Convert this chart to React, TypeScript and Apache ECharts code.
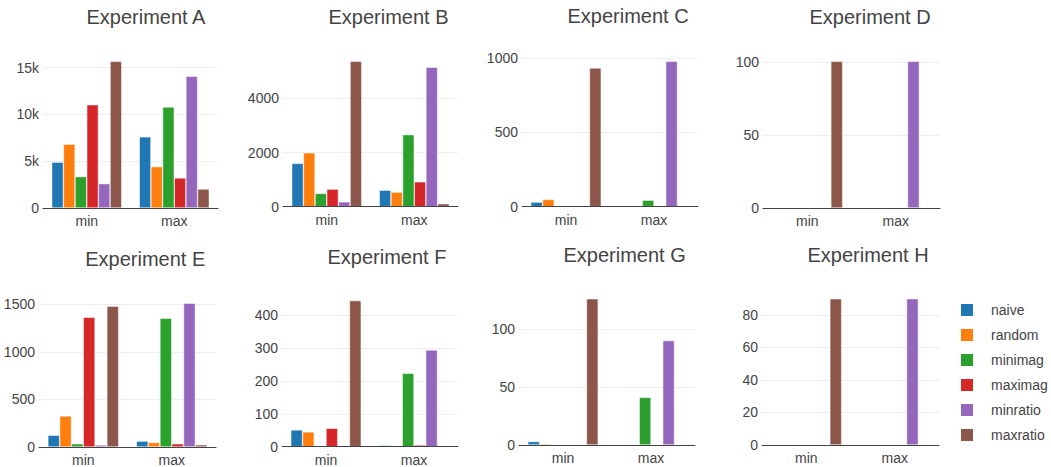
import React, { useEffect, useRef } from 'react';
import * as echarts from 'echarts';

const categories = ['min', 'max'];
const seriesNames = ['naive', 'random', 'minimag', 'maximag', 'minratio', 'maxratio'];
const seriesColors = ['#1f77b4', '#ff7f0e', '#2ca02c', '#d62728', '#9467bd', '#8c564b'];

// values per series (naive, random, minimag, maximag, minratio, maxratio) as [min, max]
const expA = [[4890, 7600], [6820, 4420], [3350, 10780], [11030, 3210], [2600, 14060], [15660, 2030]];
const expB = [[1600, 610], [1990, 540], [490, 2660], [650, 920], [180, 5150], [5370, 110]];
const expC = [[31, 0], [49, 0], [0, 44], [3, 0], [0, 978], [933, 0]];
const expD = [[0, 0], [0, 0], [0, 0], [0, 0], [0, 100.5], [100.5, 0]];
const expE = [[124, 62], [327, 48], [34, 1355], [1365, 34], [21, 1513], [1482, 24]];
const expF = [[51, 4], [45, 1], [0, 223], [56, 5], [0, 294], [444, 0]];
const expG = [[3, 0], [1, 0], [0, 41], [0, 0], [0, 90], [126, 0]];
const expH = [[0, 0], [0, 0], [0, 0], [0, 0], [0, 90], [90, 0]];

const ticksA = [0, 5000, 10000, 15000];
const labelsA = ['0', '5k', '10k', '15k'];
const ticksB = [0, 2000, 4000];
const ticksC = [0, 500, 1000];
const ticksD = [0, 50, 100];
const ticksE = [0, 500, 1000, 1500];
const ticksF = [0, 100, 200, 300, 400];
const ticksG = [0, 50, 100];
const ticksH = [0, 20, 40, 60, 80];

const titles = ['Experiment A', 'Experiment B', 'Experiment C', 'Experiment D',
  'Experiment E', 'Experiment F', 'Experiment G', 'Experiment H'];
const panelValues = [expA, expB, expC, expD, expE, expF, expG, expH];
const panelTicks = [ticksA, ticksB, ticksC, ticksD, ticksE, ticksF, ticksG, ticksH];
const panelLabels = [labelsA, null, null, null, null, null, null, null];

// layout (pixels)
const layout = [
  { left: 43, width: 175, top: 54, bottom: 208, tx: 86.5, ty: 17 },
  { left: 283, width: 175, top: 54, bottom: 206.7, tx: 328.5, ty: 17 },
  { left: 522, width: 176, top: 54, bottom: 206.7, tx: 567.5, ty: 15.5 },
  { left: 763, width: 177, top: 54, bottom: 208, tx: 809.5, ty: 17 },
  { left: 39, width: 177, top: 296, bottom: 449.3, tx: 85.2, ty: 258.8 },
  { left: 282, width: 176, top: 293.3, bottom: 446.7, tx: 327.5, ty: 257.2 },
  { left: 519, width: 176, top: 291.5, bottom: 445, tx: 563.5, ty: 254.5 },
  { left: 762, width: 177, top: 291.4, bottom: 445, tx: 807.5, ty: 255.3 },
];

const FONT = '"Liberation Sans", Arial, sans-serif';
const TXT = '#444';

export default function App() {
  const ref = useRef<HTMLDivElement>(null);
  useEffect(() => {
    if (!ref.current) return;
    const chart = echarts.init(ref.current, null, { renderer: 'svg' });
    const grid: any[] = [];
    const xAxis: any[] = [];
    const yAxis: any[] = [];
    const series: any[] = [];
    const graphic: any[] = [];
    panelValues.forEach((vals, i) => {
      const L = layout[i];
      grid.push({ left: L.left, width: L.width, top: L.top, height: L.bottom - L.top, containLabel: false });
      xAxis.push({
        type: 'category', gridIndex: i, data: categories, z: 10,
        axisLine: { show: true, lineStyle: { color: TXT, width: 1 } },
        axisTick: { show: false },
        axisLabel: { color: TXT, fontSize: 14, fontFamily: FONT, margin: 6 },
      });
      const ticks = panelTicks[i];
      const labels = panelLabels[i];
      yAxis.push({
        type: 'value', gridIndex: i, min: 0,
        max: (e: any) => e.max * 1.05,
        axisLine: { show: false },
        axisTick: { show: false, customValues: ticks },
        axisLabel: {
          customValues: ticks, color: TXT, fontSize: 14, fontFamily: FONT, margin: 4,
          formatter: (v: number) => {
            const k = ticks.indexOf(v);
            return labels && k >= 0 ? labels[k] : String(v);
          },
        },
        splitLine: { show: true, lineStyle: { color: '#eeeeee', width: 1 } },
      });
      vals.forEach((d, s) => {
        series.push({
          type: 'bar', name: seriesNames[s], xAxisIndex: i, yAxisIndex: i, data: d,
          barGap: '0%', barCategoryGap: '20%',
          itemStyle: { color: seriesColors[s], borderColor: '#ffffff', borderWidth: 0.5 },
        });
      });
      graphic.push({
        type: 'text', x: L.tx, y: L.ty, silent: true,
        style: { text: titles[i], fontSize: 20, fontFamily: FONT, fill: TXT, align: 'left', verticalAlign: 'middle' },
      });
    });
    chart.setOption({
      animation: false,
      backgroundColor: '#ffffff',
      color: seriesColors,
      grid, xAxis, yAxis, series, graphic,
      legend: {
        data: seriesNames, orient: 'vertical', left: 959, top: 302, padding: 0,
        itemWidth: 14, itemHeight: 14, itemGap: 9, icon: 'rect',
        textStyle: { color: TXT, fontSize: 14, fontFamily: FONT, padding: [0, 0, 0, 12] },
      },
    });
    return () => chart.dispose();
  }, []);
  return <div ref={ref} style={{ position: 'fixed', left: 0, top: 0, width: 1051, height: 467 }} />;
}
